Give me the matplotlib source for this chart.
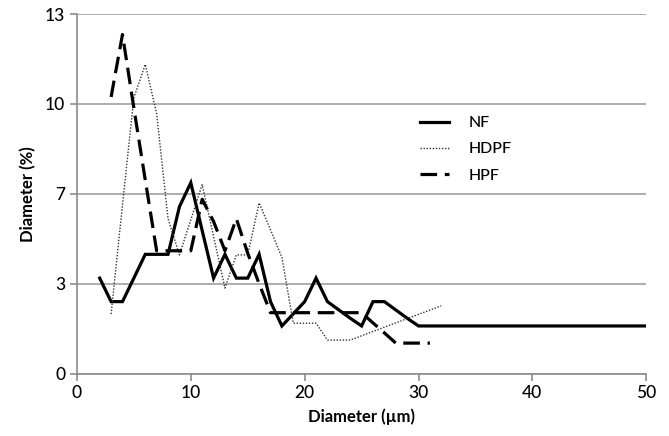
"""Particle size distribution: NF vs HDPF vs HPF."""

import matplotlib

matplotlib.use("Agg")
import matplotlib.pyplot as plt

plt.rcParams["font.family"] = ["Lato", "DejaVu Sans"]

# values
nf_x = [2, 3, 4, 5, 6, 7, 8, 9, 10, 11, 12, 13, 14, 15, 16, 17, 18, 19, 20,
        21, 22, 23, 24, 25, 26, 27, 28, 29, 30, 40, 50]
nf_y = [3.45, 2.6, 2.6, 3.45, 4.31, 4.31, 4.31, 6.03, 6.9, 5.17, 3.45, 4.31,
        3.45, 3.45, 4.31, 2.6, 1.72, 2.16, 2.6, 3.45, 2.6, 2.3, 2.0, 1.72,
        2.6, 2.6, 2.3, 2.0, 1.72, 1.72, 1.72]

hdpf_x = [3, 4, 5, 6, 7, 8, 9, 10, 11, 12, 13, 14, 15, 16, 17, 18, 19, 20,
          21, 22, 23, 24, 26, 28, 30, 32]
hdpf_y = [2.15, 6.1, 9.97, 11.18, 9.4, 5.6, 4.29, 5.56, 6.83, 4.96, 3.09,
          4.29, 4.29, 6.17, 5.2, 4.2, 1.82, 1.82, 1.82, 1.21, 1.21, 1.21,
          1.52, 1.83, 2.14, 2.45]

hpf_x = [3, 4, 5, 6, 7, 8, 9, 10, 11, 12, 13, 14, 15, 16, 17, 18, 19, 20,
         21, 22, 23, 24, 25, 26, 27, 28, 29, 30, 31]
hpf_y = [10.0, 12.26, 9.6, 7.0, 4.44, 4.44, 4.44, 4.44, 6.3, 5.5, 4.44, 5.6,
         4.35, 3.25, 2.2, 2.2, 2.2, 2.2, 2.2, 2.2, 2.2, 2.2, 2.2, 1.83, 1.47,
         1.1, 1.1, 1.1, 1.1]

y_ticks = [0, 3.25, 6.5, 9.75, 13]
y_tick_labels = ["0", "3", "7", "10", "13"]
x_ticks = [0, 10, 20, 30, 40, 50]

fig = plt.figure(figsize=(6.69, 4.36), dpi=100)
ax = fig.add_axes([0.115, 0.1433, 0.851, 0.8245])

ax.plot(nf_x, nf_y, color="black", lw=2.3, label="NF", solid_joinstyle="miter")
ax.plot(hdpf_x, hdpf_y, color="#333333", lw=1.0, linestyle=(0, (1, 1.2)),
        label="HDPF")
ax.plot(hpf_x, hpf_y, color="black", lw=2.3, linestyle=(0, (5.2, 2.4)),
        label="HPF")

ax.set_xlim(0, 50)
ax.set_ylim(0, 13)
ax.set_xticks(x_ticks)
ax.set_yticks(y_ticks)
ax.set_yticklabels(y_tick_labels)
ax.yaxis.grid(True, color="#a0a0a0", lw=1.2)
ax.set_axisbelow(True)

for side in ("top", "right"):
    ax.spines[side].set_visible(False)
for side in ("left", "bottom"):
    ax.spines[side].set_color("#8c8c8c")
    ax.spines[side].set_linewidth(1.2)
ax.tick_params(axis="both", colors="#8c8c8c", length=5, width=1.2,
               labelsize=12.5, labelcolor="black")
for lbl in ax.get_xticklabels() + ax.get_yticklabels():
    lbl.set_fontweight("medium")

ax.set_xlabel("Diameter (µm)", fontsize=12, fontweight="bold", labelpad=5)
ax.set_ylabel("Diameter (%)", fontsize=12, fontweight="bold", labelpad=6)

leg = ax.legend(loc="upper left", bbox_to_anchor=(0.602, 0.716), frameon=False,
                fontsize=11.5, handlelength=1.85, handletextpad=1.2,
                labelspacing=0.75, borderpad=0, borderaxespad=0)
for txt in leg.get_texts():
    txt.set_fontweight("medium")

fig.savefig("out.png", dpi=100)
